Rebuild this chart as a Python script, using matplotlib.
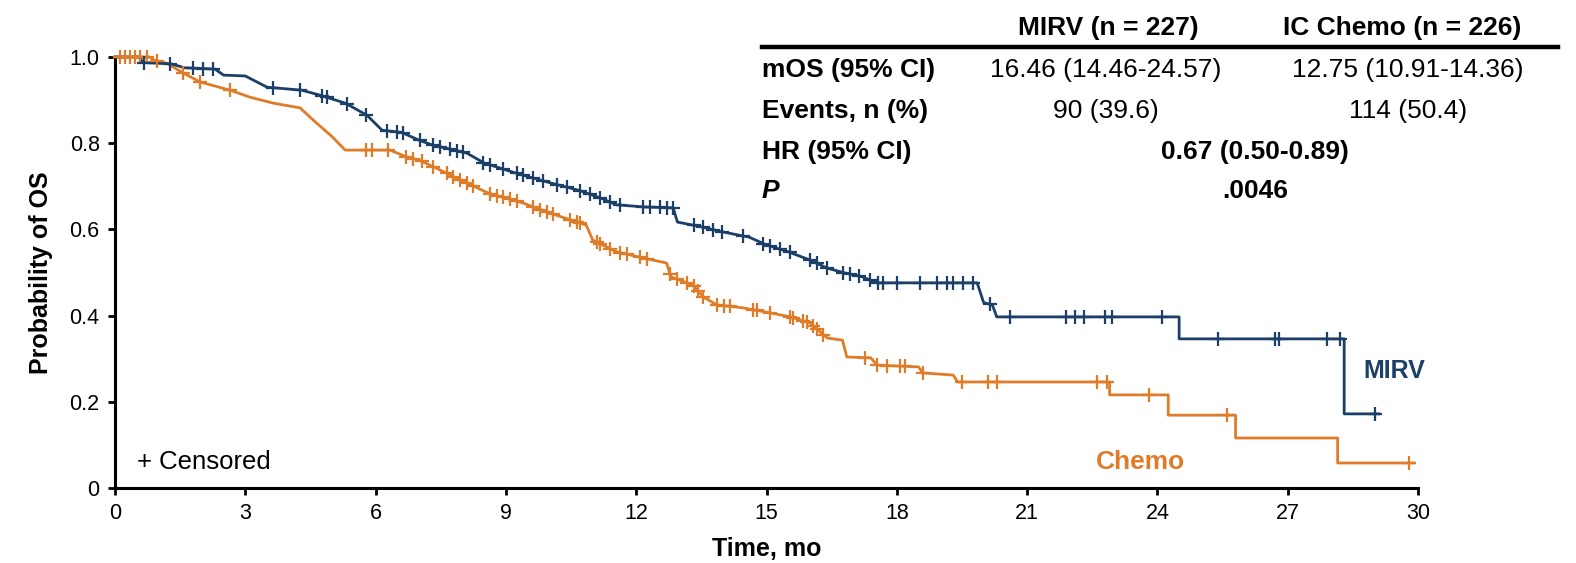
import matplotlib
matplotlib.use('Agg')

import numpy as np
import matplotlib.pyplot as plt

plt.rcParams['font.family'] = ['Liberation Sans', 'DejaVu Sans']

# Kaplan-Meier curves (time in months, survival probability)
mirv_t = [0, 0.55, 0.65, 1.3, 1.6, 2.3, 2.5, 3.0, 3.5, 4.3, 4.7, 5.3, 5.8, 6.15, 6.6, 7.0,
          7.3, 8.1, 8.5, 9.25, 9.95, 10.7, 11.2, 11.55, 12.2, 12.85, 12.95, 13.5, 14.0, 14.6,
          15.0, 15.5, 16.0, 16.4, 16.8, 17.2, 17.55, 19.85, 20.0, 20.2, 20.3, 24.5, 24.5,
          28.3, 28.3, 29.1]
mirv_s = [1.0, 1.0, 0.987, 0.984, 0.975, 0.972, 0.958, 0.956, 0.93, 0.923, 0.912, 0.893,
          0.865, 0.83, 0.825, 0.807, 0.796, 0.777, 0.754, 0.73, 0.71, 0.69, 0.672, 0.657,
          0.652, 0.65, 0.617, 0.606, 0.594, 0.582, 0.564, 0.548, 0.529, 0.51, 0.499, 0.49,
          0.476, 0.476, 0.43, 0.425, 0.397, 0.397, 0.346, 0.346, 0.172, 0.172]
mirv_cens = [0.67, 1.27, 1.80, 2.03, 2.26, 3.64, 4.26, 4.76, 4.88, 5.34, 5.79, 6.26, 6.49,
             6.64, 7.02, 7.33, 7.48, 7.71, 7.87, 8.02, 8.48, 8.64, 8.94, 9.25, 9.40, 9.63,
             9.86, 10.17, 10.40, 10.71, 10.94, 11.17, 11.40, 11.63, 12.16, 12.32, 12.54,
             12.70, 12.85, 13.32, 13.54, 13.77, 13.97, 14.47, 14.93, 15.08, 15.31, 15.54,
             16.0, 16.16, 16.39, 16.77, 16.92, 17.12, 17.38, 17.57, 17.69, 18.0, 18.54,
             18.92, 19.15, 19.30, 19.53, 19.76, 20.15, 20.6, 21.9, 22.1, 22.3, 22.8, 22.95,
             24.1, 25.4, 26.7, 26.8, 27.9, 28.2, 29.0]

chemo_t = [0, 0.8, 0.9, 1.2, 1.57, 1.96, 2.65, 3.1, 3.64, 4.26, 4.56, 5.0, 5.3, 6.33, 6.72,
           7.0, 7.4, 7.8, 8.1, 8.6, 9.4, 9.95, 10.7, 10.85, 11.0, 11.55, 12.15, 12.7, 12.8,
           13.3, 13.55, 13.85, 14.45, 15.0, 15.55, 16.0, 16.4, 16.75, 16.85, 17.4, 17.55,
           18.5, 18.6, 19.3, 19.4, 22.9, 22.9, 24.25, 24.25, 25.8, 25.8, 28.15, 28.15, 29.9]
chemo_s = [1.0, 1.0, 0.993, 0.985, 0.963, 0.942, 0.923, 0.907, 0.893, 0.882, 0.854, 0.815,
           0.784, 0.784, 0.768, 0.761, 0.742, 0.722, 0.708, 0.684, 0.661, 0.64, 0.615, 0.61,
           0.575, 0.548, 0.534, 0.522, 0.49, 0.471, 0.443, 0.425, 0.418, 0.408, 0.397,
           0.383, 0.348, 0.343, 0.304, 0.302, 0.285, 0.281, 0.267, 0.262, 0.246, 0.246,
           0.216, 0.216, 0.169, 0.169, 0.116, 0.116, 0.058, 0.058]
chemo_cens = [0.115, 0.23, 0.345, 0.46, 0.58, 0.73, 0.96, 1.57, 1.96, 2.65, 5.79, 5.91, 6.29,
              6.71, 6.87, 7.06, 7.33, 7.64, 7.79, 7.95, 8.1, 8.25, 8.63, 8.79, 8.94, 9.09,
              9.25, 9.63, 9.79, 9.94, 10.09, 10.48, 10.63, 10.71, 11.09, 11.17, 11.40, 11.63,
              11.78, 12.09, 12.24, 12.78, 12.93, 13.16, 13.32, 13.43, 13.54, 13.85, 14.01,
              14.16, 14.70, 14.78, 15.08, 15.54, 15.62, 15.85, 15.93, 16.08, 16.16, 16.31,
              17.27, 17.54, 17.77, 18.08, 18.19, 18.61, 19.5, 20.1, 20.3, 22.6, 22.85, 23.8,
              25.6, 29.8]

x_ticks = list(range(0, 31, 3))
y_ticks = [0, 0.2, 0.4, 0.6, 0.8, 1.0]
y_labels = ['0', '0.2', '0.4', '0.6', '0.8', '1.0']

col_heads = ['MIRV (n = 227)', 'IC Chemo (n = 226)']
row_labels = ['mOS (95% CI)', 'Events, n (%)', 'HR (95% CI)', 'P']
mirv_vals = ['16.46 (14.46-24.57)', '90 (39.6)']
chemo_vals = ['12.75 (10.91-14.36)', '114 (50.4)']
shared_vals = ['0.67 (0.50-0.89)', '.0046']

BLUE = '#1b3f66'
ORANGE = '#e07b28'

W, H = 1576, 563
fig = plt.figure(figsize=(W / 100, H / 100), dpi=100)
ax = fig.add_axes([115 / W, 1 - 488 / H, 1303 / W, 431 / H])


def px(x, y):
    return x / W, 1 - y / H


for t, s, cens, c in [(chemo_t, chemo_s, chemo_cens, ORANGE),
                      (mirv_t, mirv_s, mirv_cens, BLUE)]:
    ax.plot(t, s, color=c, lw=2.0, clip_on=False, zorder=3)
    # censor marks sit on the curve
    cy = np.interp(cens, np.array(t) + np.arange(len(t)) * 1e-9, s)
    ax.plot(cens, cy, ls='none', marker='+', ms=10.5, mew=1.6, color=c,
            clip_on=False, zorder=4)

ax.set_xlim(0, 30)
ax.set_ylim(0, 1.0)
ax.set_xticks(x_ticks)
ax.set_yticks(y_ticks)
ax.set_yticklabels(y_labels)
ax.tick_params(labelsize=15.5, width=2, length=5, direction='out', pad=6)
for side in ['top', 'right']:
    ax.spines[side].set_visible(False)
for side in ['left', 'bottom']:
    ax.spines[side].set_linewidth(2.2)

ax.set_xlabel('Time, mo', fontsize=18, fontweight='bold', labelpad=9)
ax.set_ylabel('Probability of OS', fontsize=18, fontweight='bold', labelpad=12)

ax.text(0.5, 0.06, '+ Censored', fontsize=18.5, va='center', ha='left')
ax.text(28.75, 0.272, 'MIRV', fontsize=18, fontweight='bold', color=BLUE,
        va='center', ha='left')
ax.text(23.6, 0.06, 'Chemo', fontsize=19, fontweight='bold', color=ORANGE,
        va='center', ha='center')

# summary table
fs = 19
fig.text(*px(1108, 28), col_heads[0], fontsize=fs, fontweight='bold', ha='center', va='center')
fig.text(*px(1402, 28), col_heads[1], fontsize=fs, fontweight='bold', ha='center', va='center')
fig.add_artist(plt.Line2D([762 / W, 1558 / W], [1 - 47 / H, 1 - 47 / H], color='black', lw=3.2))

row_y = [70, 111, 152, 191]
for i, lab in enumerate(row_labels):
    style = 'italic' if lab == 'P' else 'normal'
    fig.text(*px(762, row_y[i]), lab, fontsize=fs, fontweight='bold', fontstyle=style,
             ha='left', va='center')
for i in range(2):
    fig.text(*px(1106, row_y[i]), mirv_vals[i], fontsize=fs, ha='center', va='center')
    fig.text(*px(1408, row_y[i]), chemo_vals[i], fontsize=fs, ha='center', va='center')
    fig.text(*px(1255, row_y[i + 2]), shared_vals[i], fontsize=fs, fontweight='bold',
             ha='center', va='center')

fig.savefig('out.png', dpi=100)
